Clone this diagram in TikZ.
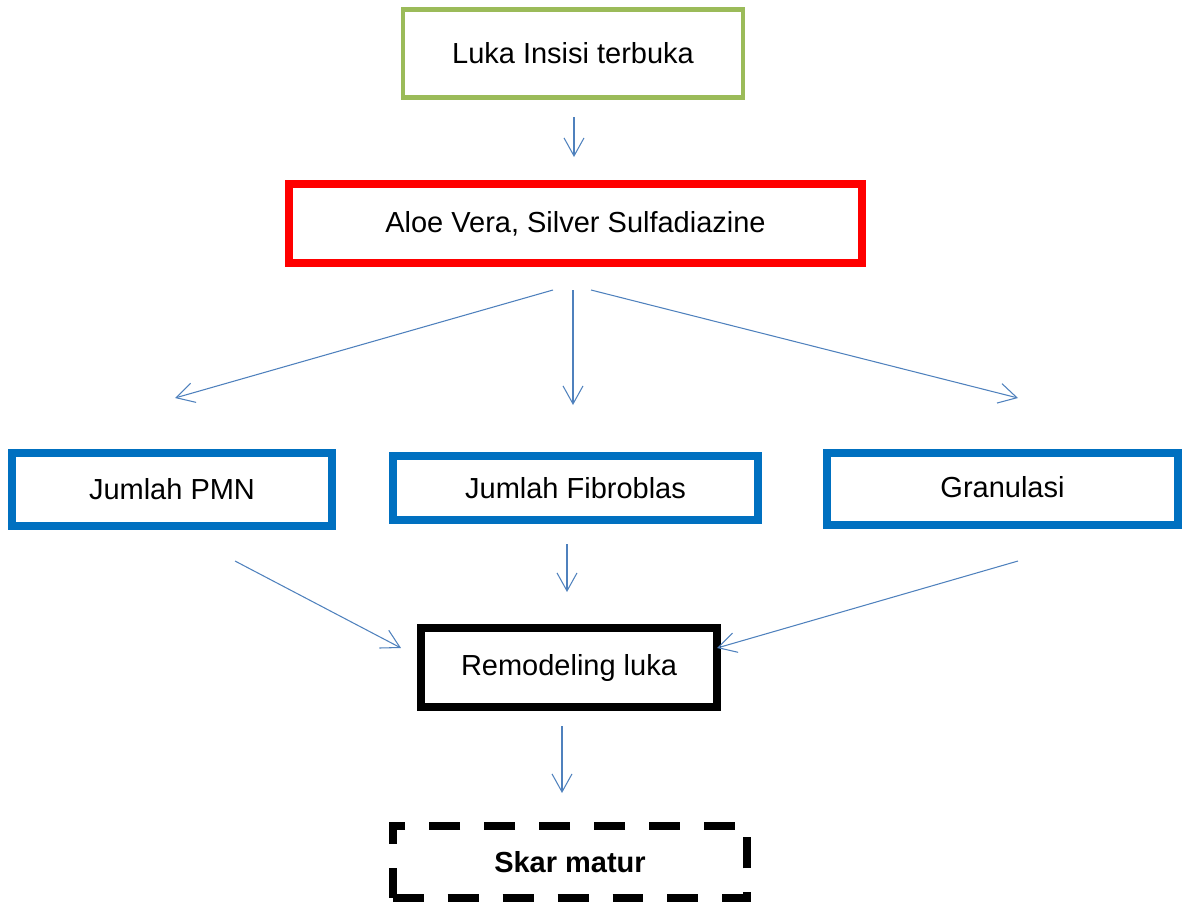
\documentclass[tikz,border=0pt]{standalone}
\usepackage{fontspec}
\setmainfont{Liberation Sans}
\definecolor{lkgreen}{RGB}{155,187,89}
\definecolor{lkred}{RGB}{255,0,0}
\definecolor{lkblue}{RGB}{0,112,192}
\definecolor{lkarrow}{RGB}{79,129,189}
\usetikzlibrary{arrows.meta,positioning}
\begin{document}
\begin{tikzpicture}[x=0.02cm,y=-0.02cm,
  box/.style={draw,rectangle,inner sep=0pt,font=\fontsize{16.5}{20}\selectfont},
  thinbox/.style={box,line width=0.09cm},
  thickbox/.style={box,line width=0.16cm},
  flow/.style={lkarrow,line width=0.6pt,-{Straight Barb[length=0.36cm,width=0.4cm]}}]
  \useasboundingbox (0,0) rectangle (1182,903);
  % Boxes
  \node[thinbox,draw=lkgreen,minimum width=6.8cm,minimum height=1.76cm] (luka) at (573,53.5) {Luka Insisi terbuka};
  \node[thickbox,draw=lkred,minimum width=11.46cm,minimum height=1.58cm] (aloe) at (575.5,223.5) {Aloe Vera, Silver Sulfadiazine};
  \node[thickbox,draw=lkblue,minimum width=6.42cm,minimum height=1.46cm] (pmn) at (172,489) {Jumlah PMN};
  \node[thickbox,draw=lkblue,minimum width=7.3cm,minimum height=1.28cm] (fibro) at (575.5,488) {Jumlah Fibroblas};
  \node[thickbox,draw=lkblue,minimum width=7.02cm,minimum height=1.44cm] (gran) at (1002.5,489) {\raisebox{0.1cm}{Granulasi}};
  \node[thickbox,draw=black,minimum width=5.92cm,minimum height=1.58cm] (remod) at (569,667.5) {Remodeling luka};
  \node[thickbox,draw=black,dash pattern=on 0.62cm off 0.48cm,minimum width=7.1cm,minimum height=1.45cm] (skar) at (570,862) {\bfseries Skar matur};
  % Arrow ends
  \coordinate (lukaout) at (574,117);
  \coordinate (aloein) at (574,157);
  \coordinate (aloeoutl) at (553,290);
  \coordinate (aloeoutm) at (573,290);
  \coordinate (aloeoutr) at (591,290);
  \coordinate (pmnin) at (175,398);
  \coordinate (fibroin) at (573,405);
  \coordinate (granin) at (1018,398);
  \coordinate (pmnout) at (235,561);
  \coordinate (fibroout) at (567,544);
  \coordinate (granout) at (1018,561);
  \coordinate (remodinl) at (401,648);
  \coordinate (remodinm) at (567,592);
  \coordinate (remodinr) at (717,648);
  \coordinate (remodout) at (562,726);
  \coordinate (skarin) at (562,793);
  % Arrows
  \draw[flow] (lukaout) -- (aloein);
  \draw[flow] (aloeoutl) -- (pmnin);
  \draw[flow] (aloeoutm) -- (fibroin);
  \draw[flow] (aloeoutr) -- (granin);
  \draw[flow] (pmnout) -- (remodinl);
  \draw[flow] (fibroout) -- (remodinm);
  \draw[flow] (granout) -- (remodinr);
  \draw[flow] (remodout) -- (skarin);
\end{tikzpicture}
\end{document}
